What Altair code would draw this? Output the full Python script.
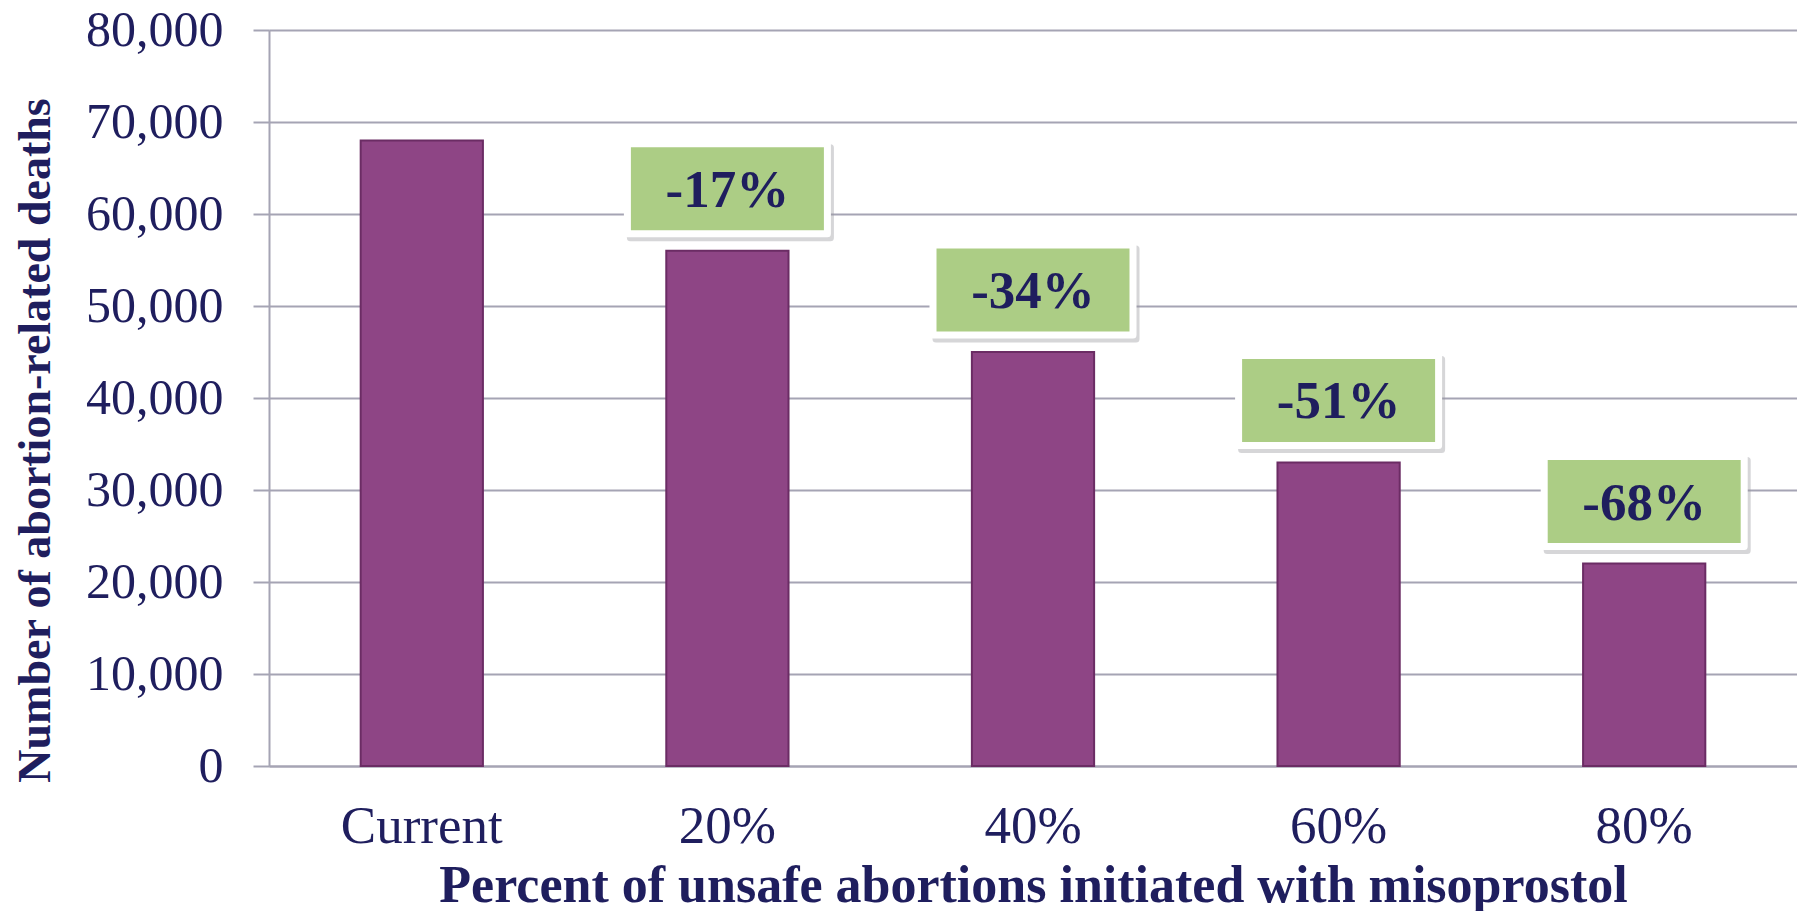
import altair as alt
import pandas as pd

categories = ["Current", "20%", "40%", "60%", "80%"]
deaths = [68000, 56000, 45000, 33000, 22000]
change_labels = ["", "-17%", "-34%", "-51%", "-68%"]

NAVY = "#1F1E5E"
GRID = "#A5A4B4"
FONT = "Liberation Serif"

df = pd.DataFrame({"cat": categories, "deaths": deaths, "lab": change_labels})
lab_df = df[df["lab"] != ""]

x_enc = alt.X(
    "cat:N",
    sort=categories,
    scale=alt.Scale(paddingInner=0.6, paddingOuter=0.3),
    axis=alt.Axis(
        title="Percent of unsafe abortions initiated with misoprostol",
        labelAngle=0,
        labelFont=FONT,
        labelFontSize=53,
        labelColor=NAVY,
        labelPadding=34,
        ticks=False,
        domainColor=GRID,
        domainWidth=2,
        titleFont=FONT,
        titleFontSize=52,
        titleFontWeight="bold",
        titleColor=NAVY,
        titlePadding=7,
    ),
)

y_enc = alt.Y(
    "deaths:Q",
    scale=alt.Scale(domain=[0, 80000], nice=False),
    axis=alt.Axis(
        values=[0, 10000, 20000, 30000, 40000, 50000, 60000, 70000, 80000],
        format=",.0f",
        title="Number of abortion-related deaths",
        labelFont=FONT,
        labelFontSize=50,
        labelColor=NAVY,
        labelPadding=30,
        tickSize=16,
        tickColor=GRID,
        tickWidth=2,
        domainColor=GRID,
        domainWidth=2,
        gridColor=GRID,
        gridWidth=2,
        titleFont=FONT,
        titleFontSize=46,
        titleFontWeight="bold",
        titleColor=NAVY,
        titleX=-234,
        titleY=410,
        titleAngle=-90,
        titleAlign="center",
        titleBaseline="middle",
    ),
)

bars = alt.Chart(df).mark_bar(
    color="#8E4585", stroke="#6B2C64", strokeWidth=2
).encode(x=x_enc, y=y_enc)

box_shape = "M-1,-0.45 L1,-0.45 L1,0.45 L-1,0.45 Z"

shadow = alt.Chart(lab_df).mark_point(
    shape=box_shape, size=200 * 200, filled=True, color="#9A9AA0",
    opacity=0.4, xOffset=3, yOffset=-58, stroke="#9A9AA0", strokeWidth=7,
    strokeJoin="round",
).encode(x=alt.X("cat:N", sort=categories), y="deaths:Q")

boxes = alt.Chart(lab_df).mark_point(
    shape=box_shape, size=200 * 200, filled=True, fill="#ACCD85",
    opacity=1, yOffset=-62, stroke="white", strokeWidth=7, strokeOpacity=1,
    strokeJoin="round",
).encode(x=alt.X("cat:N", sort=categories), y="deaths:Q")

texts = alt.Chart(lab_df).mark_text(
    font=FONT, fontSize=53, fontWeight="bold", color=NAVY,
    baseline="middle", align="center", yOffset=-60,
).encode(x=alt.X("cat:N", sort=categories), y="deaths:Q", text="lab:N")

chart = alt.layer(bars, shadow, boxes, texts).properties(
    width=1528,
    height=736,
    padding={"left": 261, "top": 22, "right": 0, "bottom": 145},
    autosize=alt.AutoSizeParams(type="none"),
).configure_view(
    fill="#EBEBEE", stroke=None
).configure(background="white")

chart.save("out.html", embed_options={"renderer": "svg", "actions": False})
